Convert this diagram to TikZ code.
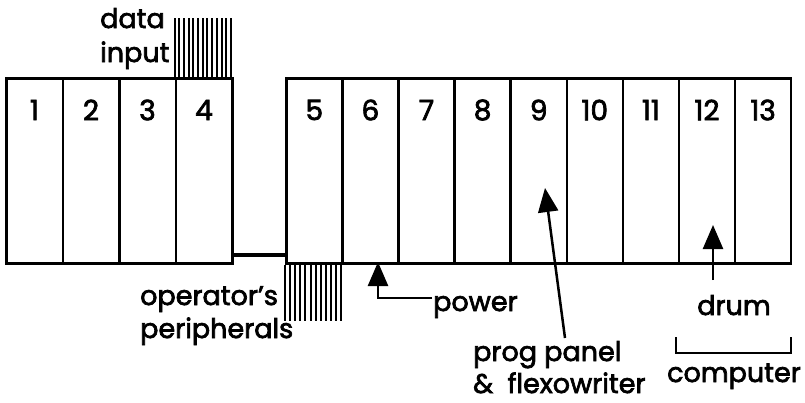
\documentclass[tikz,border=0pt]{standalone}
\usepackage{fontspec}
\setmainfont{Poppins}[FakeBold=2.5]
\usetikzlibrary{arrows.meta,calc}
\begin{document}
\begin{tikzpicture}[x=1pt,y=-1pt,
  cellA/.style={draw,line width=2.5pt,minimum width=56.5pt,minimum height=185pt,inner sep=0pt,anchor=north west},
  cellB/.style={draw,line width=2.5pt,minimum width=56.1pt,minimum height=185pt,inner sep=0pt,anchor=north west},
  num/.style={font=\fontsize{28}{30}\selectfont,inner sep=0pt},
  lbl/.style={font=\fontsize{27}{34}\selectfont,inner sep=0pt},
  hatch/.style={line width=2pt},
  ptr/.style={line width=2.5pt,-{Triangle[width=20pt,length=24pt]}},
  bar/.style={line width=4pt}
]
\useasboundingbox (0,0) rectangle (805,402);
% left block
\foreach \i in {1,...,4}{
  \node[cellA] (c\i) at ({5+56.5*(\i-1)},77) {};
  \node[num] (n\i) at ($(c\i.north)+(0,33)$) {\i};
}
% right block
\foreach \i in {5,...,13}{
  \node[cellB] (c\i) at ({285+56.1*(\i-5)},77) {};
  \node[num] (n\i) at ($(c\i.north)+(0,33)$) {\i};
}
% hatch above cell 4
\foreach \k in {0,...,12}{
  \draw[hatch] ($(c4.north west)+({\k*56.5/12},0)$) -- ++(0,-59);
}
% hatch below cell 5
\foreach \k in {0,...,11}{
  \draw[hatch] ($(c5.south west)+({\k*56.1/11},0)$) -- ++(0,56);
}
% connecting bar
\draw[bar] ($(c4.south east)+(0,-10)$) -- ($(c5.south west)+(0,-10)$);
% labels
\node[lbl,anchor=base west] (data) at (100,28) {data};
\node[lbl,anchor=base west] (input) at (100,62) {input};
\node[lbl,anchor=base west] (oper) at (140,305) {operator\char39s};
\node[lbl,anchor=base west] (peri) at (140,338) {peripherals};
\node[lbl,anchor=base west] (power) at (433,311) {power};
\node[lbl,anchor=base west] (prog) at (473,361) {prog panel};
\node[lbl,anchor=base west] (flexo) at (473,393) {\&\ \ flexowriter};
\node[lbl,anchor=base] (drum) at (734,315) {drum};
\node[lbl,anchor=base] (comp) at (734,382) {computer};
% arrows
\coordinate (pwtip) at (378,262);
\draw[ptr] ($(power.base west)+(-1,-13)$) -| (pwtip);
\coordinate (pptail) at (565,338);
\coordinate (pptip) at (545,188);
\draw[ptr] (pptail) -- (pptip);
\coordinate (drtail) at (713,280);
\coordinate (drtip) at (713,225);
\draw[ptr] (drtail) -- (drtip);
% bracket
\coordinate (brl) at (676,337);
\coordinate (brr) at (791,337);
\draw[line width=2.5pt] (brl) -- ++(0,16) -| (brr);
\end{tikzpicture}
\end{document}
